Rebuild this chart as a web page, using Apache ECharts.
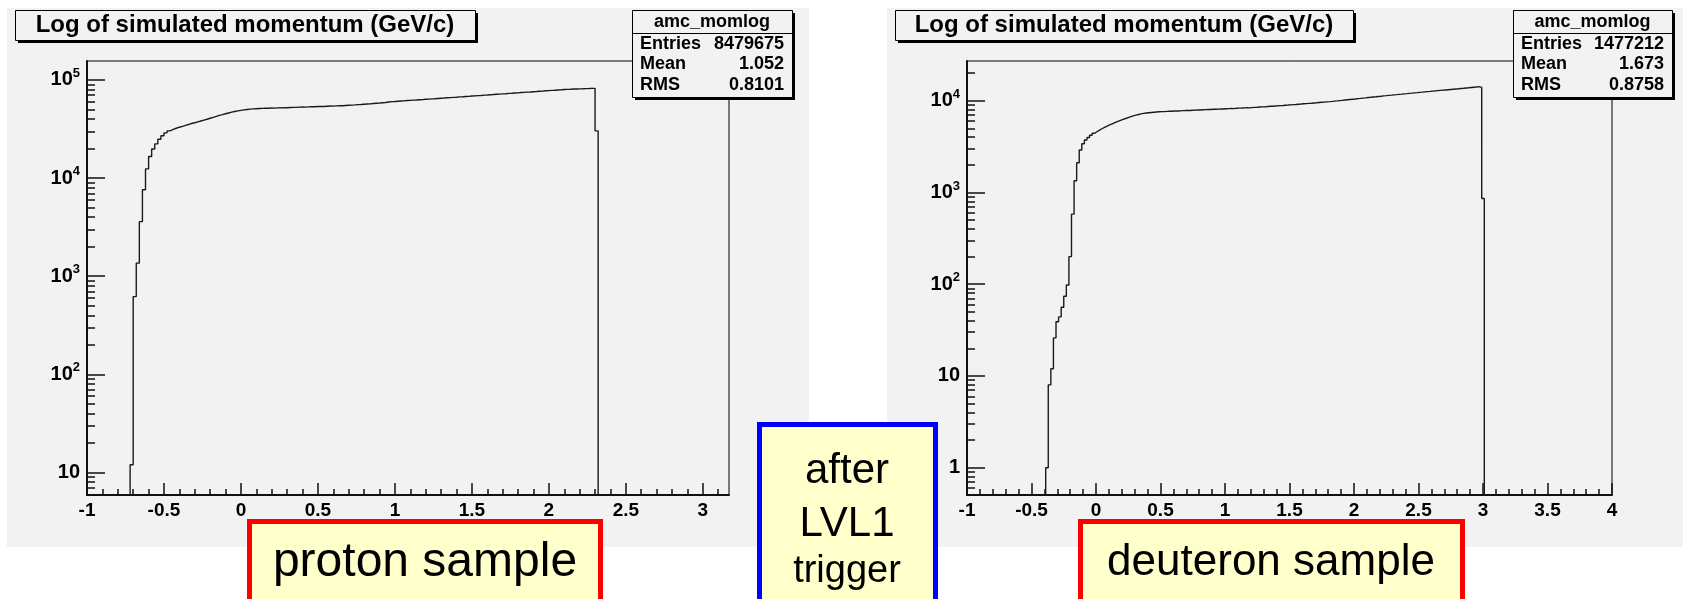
<!DOCTYPE html>
<html>
<head>
<meta charset="utf-8">
<script src="https://cdn.jsdelivr.net/npm/echarts@6/dist/echarts.min.js"></script>
<style>
  html, body { margin: 0; padding: 0; background: #ffffff; }
  #chart { width: 1685px; height: 599px; }
</style>
</head>
<body>
<div id="chart"></div>
<script>
// ---- histogram contents: log10 of simulated momentum, bins of 0.02 ----
const binWidth = 0.02;

// proton sample, first bin starts at -0.72
const protonFirstEdge = -0.72;
const protonCounts = [
  12, 620, 1360, 3600, 7600, 12400, 16600, 19800, 22300, 24900,
  27000, 28900, 30300, 31300, 32200, 33000, 33700, 34500, 35200, 36000,
  36600, 37400, 38200, 39000, 39800, 40700, 41600, 42500, 43500, 44300,
  45200, 46100, 47000, 47700, 48400, 49000, 49600, 50000, 50400, 50700,
  50900, 51100, 51300, 51400,
  51500, 51700, 51600, 51900, 52000, 52200, 52100, 52400, 52600, 52500,
  52800, 53000, 52900, 53200, 53400, 53300, 53600, 53800, 53700, 54000,
  54200, 54100, 54400, 54700, 54600, 55000, 55300, 55400, 55700, 56100,
  56200, 56600, 56900, 57100, 57500, 57900, 58100, 58600, 58900, 59700,
  60100, 60300, 60700, 61100, 61200, 61700, 61900, 62300, 62500, 62900,
  63100, 63600, 63800, 64200, 64400, 64800, 65100, 65400, 65800, 66000,
  66500, 66700, 67200, 67400, 67900, 68100, 68600, 68800, 69300, 69500,
  70000, 70200, 70700, 71000, 71400, 71700, 72100, 72400, 72900, 73200,
  73600, 73900, 74400, 74700, 75200, 75400, 75900, 76200, 76700, 77000,
  77500, 77800, 78300, 78600, 79100, 79400, 79900, 80200, 80400, 80800,
  80900, 81200, 81300, 81600, 81700, 82000, 82100,
  30300
];

// deuteron sample, first bin starts at -0.39
const deuteronFirstEdge = -0.39;
const deuteronCounts = [
  1, 8, 12, 26, 39, 44, 56, 74, 98, 200,
  580, 1340, 2110, 2900, 3400, 3730, 3980, 4200, 4420, 4620,
  4800, 4980, 5150, 5320, 5480, 5640, 5800, 5950, 6100, 6250,
  6400, 6550, 6700, 6840, 6970, 7080, 7180, 7270, 7340, 7400,
  7450, 7500, 7540, 7570, 7600,
  7600, 7650, 7700, 7680, 7720, 7760, 7740, 7800, 7820, 7850,
  7830, 7880, 7900, 7950, 7930, 7980, 8000, 8030, 8010, 8060,
  8080, 8100, 8130, 8120, 8170, 8200, 8230, 8210, 8270, 8300,
  8320, 8350, 8380, 8360, 8420, 8460, 8480, 8530, 8580, 8600,
  8640, 8690, 8720, 8760, 8800, 8850, 8880, 8940, 8970, 9020,
  9070, 9110, 9160, 9200, 9260, 9300, 9350, 9400, 9460, 9500,
  9560, 9610, 9660, 9720, 9770, 9830, 9900, 9960, 10030, 10100,
  10170, 10240, 10310, 10380, 10450, 10530, 10600, 10680, 10750, 10830,
  10900, 10980, 11050, 11130, 11200, 11280, 11350, 11430, 11500, 11580,
  11650, 11730, 11800, 11880, 11950, 12030, 12100, 12180, 12250, 12330,
  12400, 12480, 12560, 12630, 12710, 12790, 12870, 12950, 13030, 13110,
  13190, 13270, 13350, 13430, 13510, 13600, 13680, 13770, 13850, 13940,
  14030, 14120, 14250, 14000,
  860
];

// statistics boxes
const statLabels = ['Entries', 'Mean', 'RMS'];
const protonStatValues = ['8479675', '1.052', '0.8101'];
const deuteronStatValues = ['1477212', '1.673', '0.8758'];
const histName = 'amc_momlog';
const histTitle = 'Log of simulated momentum (GeV/c)';

// axis ranges and tick labels
const protonXRange = [-1, 3.17];
const deuteronXRange = [-1, 4];
const protonYRange = [5.9, 156000];
const deuteronYRange = [0.504, 27100];
const protonXLabels = [-1, -0.5, 0, 0.5, 1, 1.5, 2, 2.5, 3];
const deuteronXLabels = [-1, -0.5, 0, 0.5, 1, 1.5, 2, 2.5, 3, 3.5, 4];
const protonDecades = [1, 2, 3, 4, 5];
const deuteronDecades = [0, 1, 2, 3, 4];

// captions under the pads
const protonCaption = 'proton sample';
const deuteronCaption = 'deuteron sample';
const triggerCaption = ['after', 'LVL1', 'trigger'];

// ---- helpers ----
const FONT = '"Liberation Sans", Arial, Helvetica, sans-serif';

function histPoints(firstEdge, counts, floor) {
  const pts = [[firstEdge, floor]];
  counts.forEach((c, i) => pts.push([+(firstEdge + i * binWidth).toFixed(4), c]));
  pts.push([+(firstEdge + counts.length * binWidth).toFixed(4), floor]);
  return pts;
}

function minorX(range) {
  const out = [];
  for (let k = Math.round(range[0] * 10); k <= Math.round(range[1] * 10); k++) {
    if (k % 5 !== 0) out.push(k / 10);
  }
  return out;
}

function minorLog(range) {
  const out = [];
  const lo = Math.floor(Math.log10(range[0]));
  const hi = Math.ceil(Math.log10(range[1]));
  for (let n = lo; n <= hi; n++) {
    for (let m = 2; m <= 9; m++) {
      const v = m * Math.pow(10, n);
      if (v > range[0] && v < range[1]) out.push(Math.log10(v));
    }
  }
  return out;
}

function decadeLabel(v) {
  const n = Math.round(v);
  if (n === 0) return '{b|1}';
  if (n === 1) return '{b|10}';
  return '{b|10}{s|' + n + '}';
}

const axisColor = '#111';
const labelStyle = { color: '#000', fontFamily: FONT, fontWeight: 'bold', fontSize: 19 };

function xAxesFor(gridIndex, range, labels) {
  return [
    {
      type: 'value', gridIndex, min: range[0], max: range[1], position: 'bottom',
      axisLine: { show: true, onZero: false, lineStyle: { color: axisColor, width: 2 } },
      axisTick: { show: true, inside: true, length: 12, customValues: labels,
                  lineStyle: { color: axisColor, width: 1.5 } },
      axisLabel: Object.assign({ customValues: labels, margin: 6,
                  formatter: v => String(v) }, labelStyle),
      splitLine: { show: false }
    },
    {
      type: 'value', gridIndex, min: range[0], max: range[1], position: 'bottom',
      axisLine: { show: false, onZero: false },
      axisTick: { show: true, inside: true, length: 6, customValues: minorX(range),
                  lineStyle: { color: axisColor, width: 1.5 } },
      axisLabel: { show: false },
      splitLine: { show: false }
    }
  ];
}

function yAxesFor(gridIndex, range, decades) {
  const lo = Math.log10(range[0]);
  const hi = Math.log10(range[1]);
  return [
    { type: 'log', logBase: 10, gridIndex, min: range[0], max: range[1], show: false },
    {
      type: 'value', gridIndex, min: lo, max: hi, position: 'left',
      axisLine: { show: true, onZero: false, lineStyle: { color: axisColor, width: 2 } },
      axisTick: { show: true, inside: true, length: 18, customValues: decades,
                  lineStyle: { color: axisColor, width: 1.5 } },
      axisLabel: {
        customValues: decades, margin: 7, formatter: decadeLabel,
        rich: {
          b: { fontFamily: FONT, fontWeight: 'bold', fontSize: 20, color: '#000',
               lineHeight: 26, verticalAlign: 'middle' },
          s: { fontFamily: FONT, fontWeight: 'bold', fontSize: 13, color: '#000',
               lineHeight: 26, verticalAlign: 'top' }
        }
      },
      splitLine: { show: false }
    },
    {
      type: 'value', gridIndex, min: lo, max: hi, position: 'left',
      axisLine: { show: false, onZero: false },
      axisTick: { show: true, inside: true, length: 8, customValues: minorLog(range),
                  lineStyle: { color: axisColor, width: 1.5 } },
      axisLabel: { show: false },
      splitLine: { show: false }
    }
  ];
}

// shadowed box, ROOT pave style
function paveBox(x, y, w, h) {
  return [
    { type: 'rect', z: 100, shape: { x: x + 3, y: y + 3, width: w, height: h },
      style: { fill: '#000' } },
    { type: 'rect', z: 101, shape: { x: x + 0.5, y: y + 0.5, width: w, height: h },
      style: { fill: '#f2f2f2', stroke: '#000', lineWidth: 1 } }
  ];
}

function text(x, y, str, size, weight, align) {
  return {
    type: 'text', z: 102, x, y,
    style: { text: str, fill: '#000', fontFamily: FONT, fontSize: size, fontWeight: weight,
             align: align, textAlign: align, verticalAlign: 'middle', textVerticalAlign: 'middle' }
  };
}

function titleBox(x, y, w, h) {
  return paveBox(x, y, w, h).concat([
    text(x + w / 2, y + h / 2 + 0.5, histTitle, 24, 'bold', 'center')
  ]);
}

function statBox(x, y, w, h, values) {
  const els = paveBox(x, y, w, h);
  els.push(text(x + w / 2, y + 12, histName, 18, 'bold', 'center'));
  els.push({ type: 'line', z: 102, shape: { x1: x, y1: y + 23.5, x2: x + w, y2: y + 23.5 },
             style: { stroke: '#000', lineWidth: 1 } });
  const rows = [y + 34, y + 54, y + 75];
  statLabels.forEach((lab, i) => {
    els.push(text(x + 8, rows[i], lab, 18, 'bold', 'left'));
    els.push(text(x + w - 8, rows[i], values[i], 18, 'bold', 'right'));
  });
  return els;
}

function captionBox(x, y, w, h, color) {
  return { type: 'rect', z: 100, shape: { x, y, width: w, height: h },
           style: { fill: '#ffffcc', stroke: color, lineWidth: 5 } };
}

const graphics = [
  // pad backgrounds
  { type: 'rect', z: -10, shape: { x: 7, y: 8, width: 802, height: 539 }, style: { fill: '#f2f2f2' } },
  { type: 'rect', z: -10, shape: { x: 887, y: 8, width: 796, height: 539 }, style: { fill: '#f2f2f2' } }
]
  .concat(titleBox(15, 10, 460, 30))
  .concat(titleBox(895, 10, 458, 30))
  .concat(statBox(632, 10, 160, 87, protonStatValues))
  .concat(statBox(1513, 10, 159, 87, deuteronStatValues))
  .concat([
    captionBox(249.5, 521.5, 351, 100, '#ff0000'),
    text(425, 563, protonCaption, 48, 'normal', 'center'),
    captionBox(1080.5, 521.5, 382, 100, '#ff0000'),
    text(1271, 563, deuteronCaption, 44, 'normal', 'center'),
    captionBox(759.5, 424.5, 176, 200, '#0000ff'),
    text(847, 471, triggerCaption[0], 42, 'normal', 'center'),
    text(847, 524, triggerCaption[1], 42, 'normal', 'center'),
    text(847, 572, triggerCaption[2], 38, 'normal', 'center')
  ]);

const chart = echarts.init(document.getElementById('chart'), null, { renderer: 'canvas' });

chart.setOption({
  animation: false,
  backgroundColor: '#ffffff',
  grid: [
    { left: 87, top: 61, width: 642, height: 434, show: true,
      backgroundColor: '#f2f2f2', borderColor: '#000', borderWidth: 1 },
    { left: 967, top: 61, width: 645, height: 434, show: true,
      backgroundColor: '#f2f2f2', borderColor: '#000', borderWidth: 1 }
  ],
  xAxis: [].concat(
    xAxesFor(0, protonXRange, protonXLabels),
    xAxesFor(1, deuteronXRange, deuteronXLabels)
  ),
  yAxis: [].concat(
    yAxesFor(0, protonYRange, protonDecades),
    yAxesFor(1, deuteronYRange, deuteronDecades)
  ),
  series: [
    {
      name: 'proton', type: 'line', step: 'end', xAxisIndex: 0, yAxisIndex: 0,
      data: histPoints(protonFirstEdge, protonCounts, 0.1),
      showSymbol: false, symbol: 'none', clip: true,
      lineStyle: { color: '#1a1a1a', width: 1.4 }
    },
    {
      name: 'deuteron', type: 'line', step: 'end', xAxisIndex: 2, yAxisIndex: 3,
      data: histPoints(deuteronFirstEdge, deuteronCounts, 0.01),
      showSymbol: false, symbol: 'none', clip: true,
      lineStyle: { color: '#1a1a1a', width: 1.4 }
    }
  ],
  graphic: { elements: graphics }
});
</script>
</body>
</html>
